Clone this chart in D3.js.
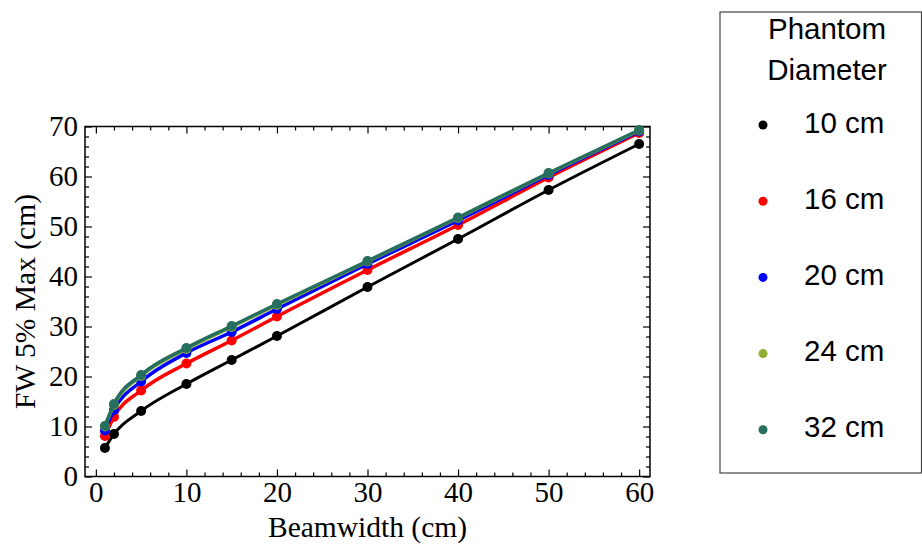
<!DOCTYPE html>
<html>
<head>
<meta charset="utf-8">
<script src="https://cdn.jsdelivr.net/npm/d3@7"></script>
<style>
  html, body { margin: 0; padding: 0; background: #fff; }
  svg { display: block; }
</style>
</head>
<body>
<svg id="chart" width="922" height="553"></svg>
<script>
// ---- data ----
const beamwidths = [1, 2, 5, 10, 15, 20, 30, 40, 50, 60];
const seriesNames = ["10 cm", "16 cm", "20 cm", "24 cm", "32 cm"];
const fw10 = [5.7, 8.5, 13.1, 18.5, 23.3, 28.1, 37.9, 47.5, 57.3, 66.5];
const fw16 = [8.1, 11.9, 17.2, 22.6, 27.2, 32.0, 41.3, 50.3, 59.8, 68.7];
const fw20 = [9.2, 13.3, 19.0, 24.7, 28.9, 33.5, 42.5, 51.2, 60.3, 69.0];
const fw24 = [10.0, 14.3, 20.1, 25.5, 29.9, 34.3, 43.0, 51.7, 60.6, 69.2];
const fw32 = [10.1, 14.5, 20.3, 25.7, 30.1, 34.5, 43.1, 51.8, 60.7, 69.3];
const seriesColors = ["#000000", "#ff0000", "#0000ff", "#8fb032", "#266e5e"];
const xTicks = [0, 10, 20, 30, 40, 50, 60];
const yTicks = [0, 10, 20, 30, 40, 50, 60, 70];
const legendTitle = ["Phantom", "Diameter"];
const xTitle = "Beamwidth (cm)";
const yTitle = "FW 5% Max (cm)";

const allSeries = [fw10, fw16, fw20, fw24, fw32];

const svg = d3.select("#chart");
svg.append("rect").attr("width", 922).attr("height", 553).attr("fill", "#fff");

const L = 85, R = 650, T = 126.5, B = 476.5;
const x = d3.scaleLinear().domain([-1.2, 61.2]).range([L, R]);
const y = d3.scaleLinear().domain([0, 70]).range([B, T]);

const serif = "'Liberation Serif', 'Times New Roman', serif";
const sans = "'Liberation Sans', Arial, sans-serif";

const xMinor = d3.range(0, 61, 2).filter(v => v % 10 !== 0);
const yMinor = d3.range(0, 71, 2).filter(v => v % 10 !== 0);

function styleAxis(g) {
  g.select(".domain").remove();
  g.selectAll("line").attr("stroke", "#000").attr("stroke-width", 1.2);
  g.selectAll("text").attr("font-family", serif).attr("font-size", 29).attr("fill", "#000");
}

// bottom
svg.append("g").attr("transform", `translate(0,${B})`)
  .call(d3.axisBottom(x).tickValues(xTicks).tickSize(-7).tickPadding(5).tickFormat(d3.format("d")))
  .call(styleAxis);
svg.append("g").attr("transform", `translate(0,${B})`)
  .call(d3.axisBottom(x).tickValues(xMinor).tickSize(-4).tickFormat(""))
  .call(styleAxis);
// top
svg.append("g").attr("transform", `translate(0,${T})`)
  .call(d3.axisTop(x).tickValues(xTicks).tickSize(-7).tickFormat(""))
  .call(styleAxis);
svg.append("g").attr("transform", `translate(0,${T})`)
  .call(d3.axisTop(x).tickValues(xMinor).tickSize(-4).tickFormat(""))
  .call(styleAxis);
// left
svg.append("g").attr("transform", `translate(${L},0)`)
  .call(d3.axisLeft(y).tickValues(yTicks).tickSize(-7).tickPadding(7).tickFormat(d3.format("d")))
  .call(styleAxis);
svg.append("g").attr("transform", `translate(${L},0)`)
  .call(d3.axisLeft(y).tickValues(yMinor).tickSize(-4).tickFormat(""))
  .call(styleAxis);
// right
svg.append("g").attr("transform", `translate(${R},0)`)
  .call(d3.axisRight(y).tickValues(yTicks).tickSize(-7).tickFormat(""))
  .call(styleAxis);
svg.append("g").attr("transform", `translate(${R},0)`)
  .call(d3.axisRight(y).tickValues(yMinor).tickSize(-4).tickFormat(""))
  .call(styleAxis);

// frame
svg.append("rect").attr("x", L).attr("y", T).attr("width", R - L).attr("height", B - T)
  .attr("fill", "none").attr("stroke", "#000").attr("stroke-width", 1.5);

// series
const line = d3.line().x(d => x(d[0])).y(d => y(d[1])).curve(d3.curveMonotoneX);
allSeries.forEach((vals, i) => {
  const pts = beamwidths.map((b, j) => [b, vals[j]]);
  svg.append("path").datum(pts).attr("d", line)
    .attr("fill", "none").attr("stroke", seriesColors[i]).attr("stroke-width", i === 0 ? 3 : 3.5);
  svg.append("g").selectAll("circle").data(pts).join("circle")
    .attr("cx", d => x(d[0])).attr("cy", d => y(d[1])).attr("r", 5)
    .attr("fill", seriesColors[i]);
});

// axis titles
svg.append("text").attr("x", (L + R) / 2 - 0).attr("y", 537)
  .attr("text-anchor", "middle").attr("font-family", serif).attr("font-size", 29.5)
  .text(xTitle);
svg.append("text").attr("transform", `translate(35,${(T + B) / 2}) rotate(-90)`)
  .attr("text-anchor", "middle").attr("font-family", serif).attr("font-size", 29.5)
  .text(yTitle);

// legend
const lg = svg.append("g");
lg.append("rect").attr("x", 720).attr("y", 12).attr("width", 201.5).attr("height", 461)
  .attr("fill", "#fff").attr("stroke", "#444").attr("stroke-width", 1.2);
legendTitle.forEach((t, i) => {
  lg.append("text").attr("x", 827).attr("y", 38.5 + i * 41)
    .attr("text-anchor", "middle").attr("font-family", sans).attr("font-size", 29.5)
    .attr("fill", "#000").text(t);
});
seriesNames.forEach((n, i) => {
  const cy = 125 + i * 76.2;
  lg.append("circle").attr("cx", 763).attr("cy", cy).attr("r", 4.5).attr("fill", seriesColors[i]);
  lg.append("text").attr("x", 804).attr("y", cy + 7.5)
    .attr("font-family", sans).attr("font-size", 29.5).attr("fill", "#000").text(n);
});
</script>
</body>
</html>
